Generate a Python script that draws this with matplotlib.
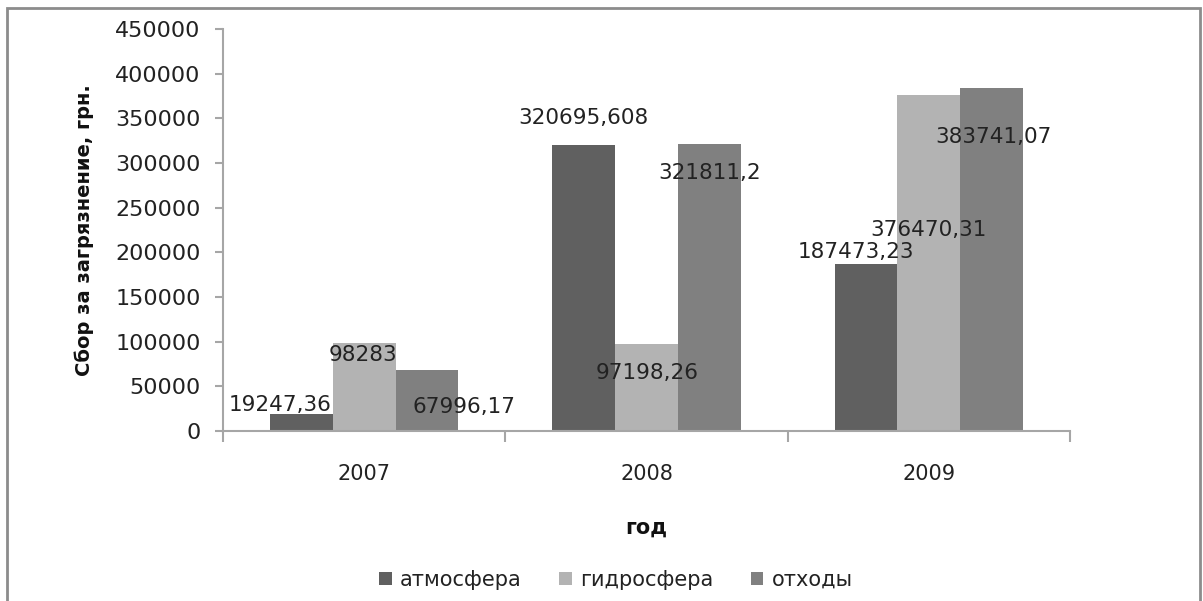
import matplotlib.pyplot as plt
import numpy as np
from matplotlib.patches import Rectangle

plt.rcParams['font.family'] = ['DejaVu Sans']

# data
years = ['2007', '2008', '2009']
series = ['атмосфера', 'гидросфера', 'отходы']
atmosfera = [19247.36, 320695.608, 187473.23]
gidrosfera = [98283, 97198.26, 376470.31]
othody = [67996.17, 321811.2, 383741.07]
labels_atm = ['19247,36', '320695,608', '187473,23']
labels_gid = ['98283', '97198,26', '376470,31']
labels_oth = ['67996,17', '321811,2', '383741,07']

colors = ['#606060', '#b3b3b3', '#808080']
# manual label offsets (pixels) from top of each bar
offs_atm = [(-21, 9), (0, 27), (-10, 12)]
offs_gid = [(-1, -12), (1, -29), (0, -135)]
offs_oth = [(37, -37), (0, -29), (2, -49)]

fig = plt.figure(figsize=(12.03, 6.01), dpi=100)
ax = fig.add_axes([223 / 1203, 1 - 431 / 601, 847 / 1203, 402 / 601])

x = np.arange(len(years))
w = 1 / 4.5
all_vals = [atmosfera, gidrosfera, othody]
all_labels = [labels_atm, labels_gid, labels_oth]
all_offs = [offs_atm, offs_gid, offs_oth]
for i, (vals, name) in enumerate(zip(all_vals, series)):
    pos = x + (i - 1) * w
    ax.bar(pos, vals, width=w, color=colors[i], label=name, zorder=2)
    for px, v, lab, off in zip(pos, vals, all_labels[i], all_offs[i]):
        ax.annotate(lab, (px, v), xytext=off, textcoords='offset pixels',
                    ha='center', va='center', fontsize=15.5, color='#222222', zorder=3)

ax.set_xlim(-0.5, 2.5)
ax.set_ylim(0, 450000)
ax.set_yticks(np.arange(0, 450001, 50000))
ax.set_xticks(x)
ax.set_xticklabels(years)
ax.set_xticks([-0.5, 0.5, 1.5, 2.5], minor=True)

for s in ['top', 'right']:
    ax.spines[s].set_visible(False)
for s in ['left', 'bottom']:
    ax.spines[s].set_color('#a6a6a6')
    ax.spines[s].set_linewidth(1.5)

ax.tick_params(axis='y', length=6, width=1.5, color='#a6a6a6', pad=10, labelsize=16, labelcolor='#222222')
ax.tick_params(axis='x', which='major', length=0, pad=24, labelsize=15, labelcolor='#222222')
ax.tick_params(axis='x', which='minor', length=8, width=1.5, color='#a6a6a6')

ax.set_ylabel('Сбор за загрязнение, грн.', fontsize=14, fontweight='bold', color='#111111')
ax.yaxis.set_label_coords(-0.152, 0.5)
ax.set_xlabel('год', fontsize=15, fontweight='bold', color='#111111')
ax.xaxis.set_label_coords(0.5, -0.215)

fig.legend(loc='center', bbox_to_anchor=(616 / 1203, 21 / 601), ncol=3, frameon=False,
           fontsize=15, handlelength=0.6, handleheight=0.6, handletextpad=0.4,
           columnspacing=1.8, labelcolor='#222222')

# outer chart frame
fig.patches.append(Rectangle((7 / 1203, -0.1), 1193 / 1203, 1.1 - 8 / 601,
                             transform=fig.transFigure, fill=False,
                             edgecolor='#8c8c8c', linewidth=2))

fig.savefig('out.png', dpi=100)
